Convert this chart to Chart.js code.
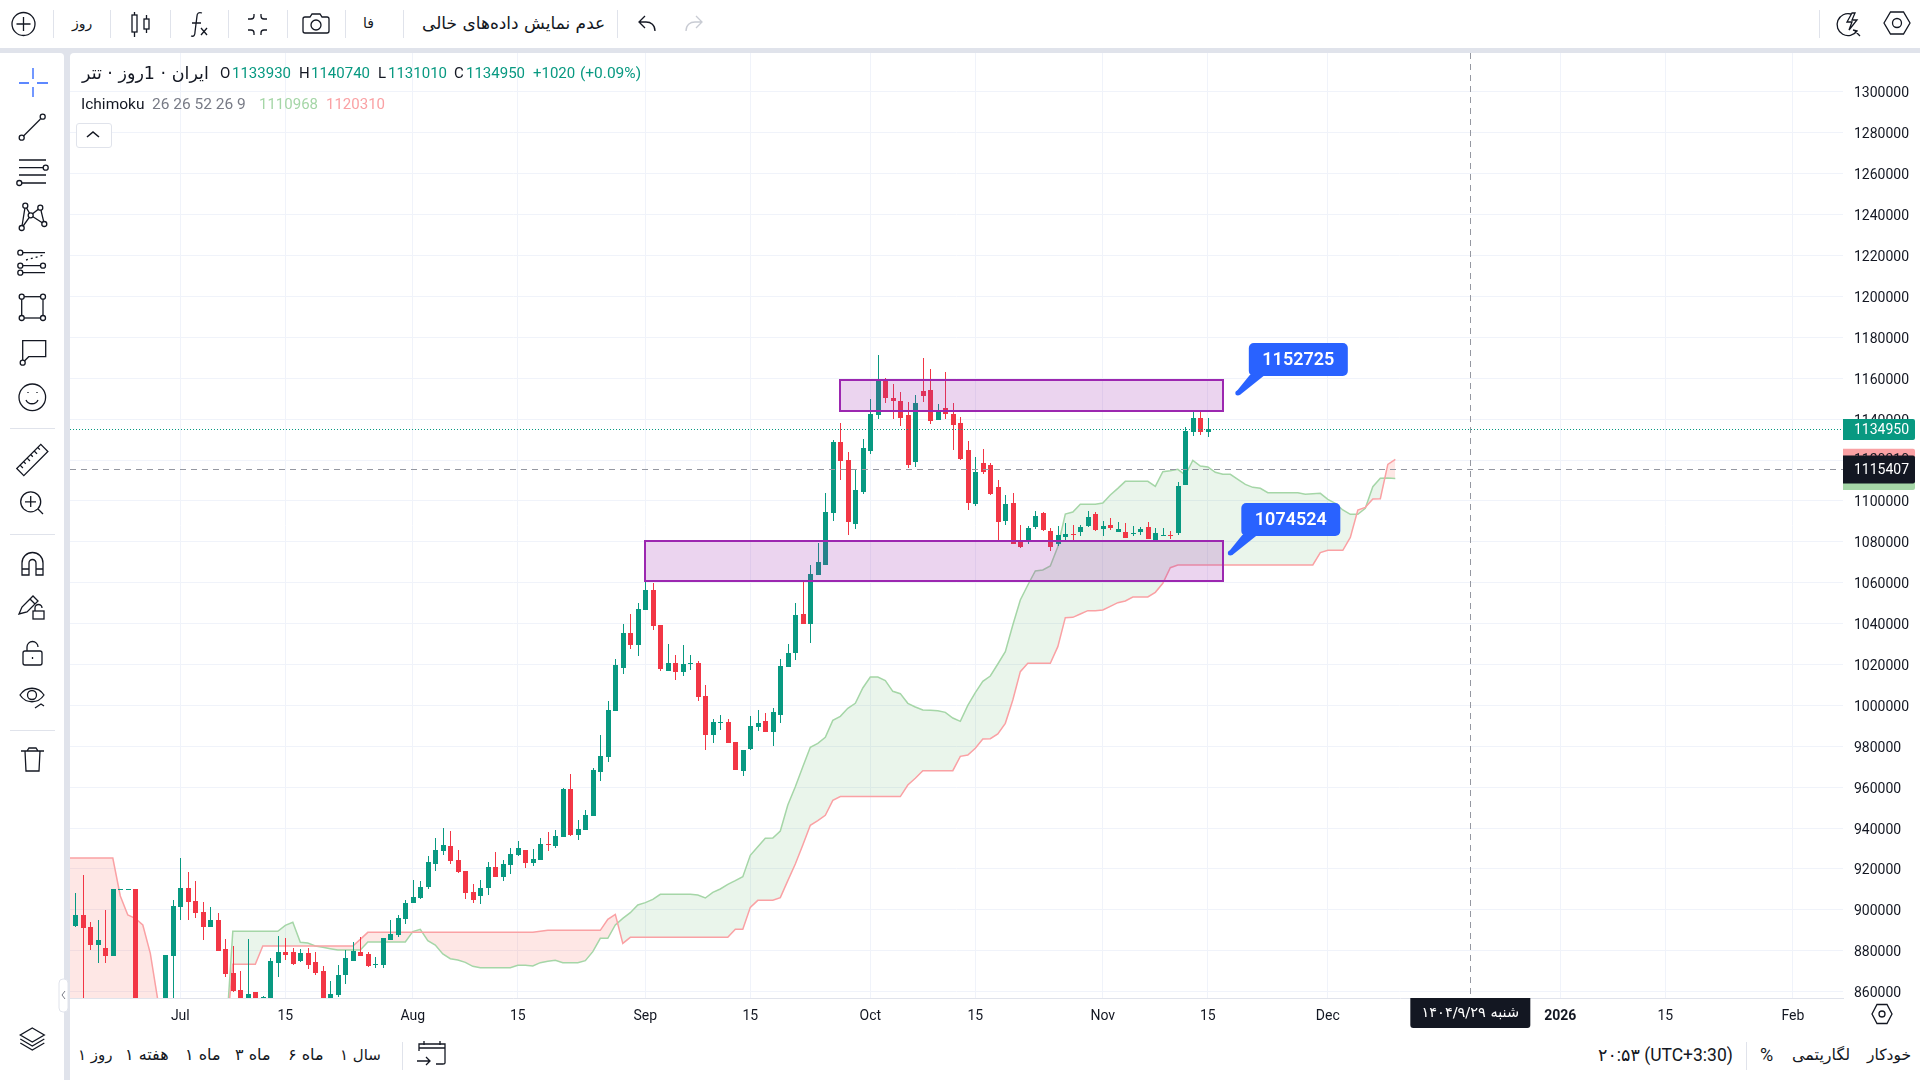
<!DOCTYPE html>
<html lang="fa">
<head>
<meta charset="utf-8">
<title>USDT IRT</title>
<script src="https://cdn.jsdelivr.net/npm/chart.js@4/dist/chart.umd.min.js"></script>
<style>
html, body { margin: 0; padding: 0; width: 1920px; height: 1080px; overflow: hidden; background: #e0e3eb; font-family: Roboto, "DejaVu Sans", sans-serif; color: #131722; }
.panel { position: absolute; background: #fff; }
.t { position: absolute; white-space: nowrap; line-height: 20px; }
.fa { font-family: "DejaVu Sans", sans-serif; }
.sep { position: absolute; background: #e0e3eb; }
svg { position: absolute; left: 0; top: 0; overflow: visible; }
svg .i { fill: none; stroke: #131722; stroke-width: 1.3; }
canvas { position: absolute; left: 70px; top: 53px; }
</style>
</head>
<body>
<div class="panel" style="left:0;top:0;width:1920px;height:48px"></div>
<div class="panel" style="left:0;top:53px;width:64px;height:1027px;border-radius:0 4px 0 0"></div>
<div class="panel" style="left:70px;top:53px;width:1850px;height:1027px;border-radius:4px 0 0 0"></div>
<canvas id="chart" width="1850" height="979"></canvas>

<!-- top bar -->
<div class="sep" style="left:53px;top:10px;width:1px;height:28px"></div>
<div class="sep" style="left:110px;top:10px;width:1px;height:28px"></div>
<div class="sep" style="left:170px;top:10px;width:1px;height:28px"></div>
<div class="sep" style="left:228px;top:10px;width:1px;height:28px"></div>
<div class="sep" style="left:287px;top:10px;width:1px;height:28px"></div>
<div class="sep" style="left:345px;top:10px;width:1px;height:28px"></div>
<div class="sep" style="left:403px;top:10px;width:1px;height:28px"></div>
<div class="sep" style="left:617px;top:10px;width:1px;height:28px"></div>
<div class="sep" style="left:1819px;top:10px;width:1px;height:28px"></div>
<div class="t fa" dir="rtl" style="left:72px;top:13px;font-size:14px">روز</div>
<div class="t fa" dir="rtl" style="left:363px;top:13px;font-size:14px">فا</div>
<div class="t fa" dir="rtl" style="left:422px;top:13px;font-size:17px">عدم نمایش داده‌های خالی</div>

<!-- chart legend -->
<div class="t fa" dir="rtl" style="left:82px;top:63px;font-size:17.5px">ایران · 1روز · تتر</div>
<div class="t" style="left:220px;top:63px;font-size:15px">O</div>
<div class="t" style="left:232px;top:63px;font-size:15px;color:#089981">1133930</div>
<div class="t" style="left:299px;top:63px;font-size:15px">H</div>
<div class="t" style="left:311px;top:63px;font-size:15px;color:#089981">1140740</div>
<div class="t" style="left:378px;top:63px;font-size:15px">L</div>
<div class="t" style="left:388px;top:63px;font-size:15px;color:#089981">1131010</div>
<div class="t" style="left:454px;top:63px;font-size:15px">C</div>
<div class="t" style="left:466px;top:63px;font-size:15px;color:#089981">1134950</div>
<div class="t" style="left:533px;top:63px;font-size:15px;color:#089981">+1020</div>
<div class="t" style="left:580px;top:63px;font-size:15.5px;color:#089981">(+0.09%)</div>
<div class="t" style="left:81px;top:94px;font-size:15.5px">Ichimoku</div>
<div class="t" style="left:152px;top:94px;font-size:15.500px;color:#787b86">26 26 52 26 9</div>
<div class="t" style="left:259px;top:94px;font-size:15px;color:#a5d6a7">1110968</div>
<div class="t" style="left:326px;top:94px;font-size:15px;color:#faa1a4">1120310</div>
<div style="position:absolute;left:76px;top:123px;width:34px;height:23px;border:1px solid #e0e3eb;border-radius:3px;background:#fff"></div>

<!-- bottom bar -->
<div class="t fa" dir="rtl" style="left:78px;top:1045px;font-size:15px">روز ۱</div>
<div class="t fa" dir="rtl" style="left:125px;top:1045px;font-size:16px">هفته ۱</div>
<div class="t fa" dir="rtl" style="left:185px;top:1045px;font-size:16px">ماه ۱</div>
<div class="t fa" dir="rtl" style="left:235px;top:1045px;font-size:16px">ماه ۳</div>
<div class="t fa" dir="rtl" style="left:288px;top:1045px;font-size:16px">ماه ۶</div>
<div class="t fa" dir="rtl" style="left:340px;top:1045px;font-size:15px">سال ۱</div>
<div class="sep" style="left:402px;top:1042px;width:1px;height:28px"></div>
<div class="t" dir="ltr" style="left:1598px;top:1045px;font-size:17.5px">۲۰:۵۳ (UTC+3:30)</div>
<div class="sep" style="left:1746px;top:1042px;width:1px;height:28px"></div>
<div class="t" style="left:1760px;top:1045px;font-size:18px">%</div>
<div class="t fa" dir="rtl" style="left:1792px;top:1045px;font-size:16px">لگاریتمی</div>
<div class="t fa" dir="rtl" style="left:1867px;top:1045px;font-size:15.500px">خودکار</div>

<!-- icons -->
<svg width="1920" height="1080">
  <g class="i">
    <circle cx="23.5" cy="24" r="11.5"/><path d="M23.5 17v14M16.5 24h14"/>
    <path d="M134.500 12v25M146.500 15v18"/><rect x="132" y="15" width="5" height="17" fill="#fff"/><rect x="144" y="19" width="5" height="10" fill="#fff"/>
    <path d="M191 36c3 1 4-1 4-4l2-16c0-3 2-4 5-3M192 23h9"/><path d="M201 28l6 7M207 28l-6 7"/>
    <path d="M254 14v2c0 2-1 3-3 3h-3M261 14v2c0 2 1 3 3 3h3M254 35v-2c0-2-1-3-3-3h-3M261 35v-2c0-2 1-3 3-3h3"/>
    <path d="M305 17h5l2-3h8l2 3h5c1 0 2 1 2 2v12c0 1-1 2-2 2h-22c-1 0-2-1-2-2v-12c0-1 1-2 2-2z"/><circle cx="316" cy="25" r="5"/>
    <path d="M655 31c0-6-4-9-9-9h-6M645 16l-6 6 6 6"/>
    <path d="M686 31c0-6 4-9 9-9h6M696 16l6 6-6 6" stroke="#c8cbd3"/>
    <path d="M1851 14a11 11 0 1 0 6 17l-4-1M1852 13l-5 9h5l-3 8 8-10h-5l3-7zM1855 31l5 5"/>
    <path d="M1884 23l6.500-11h13l6.500 11-6.500 11h-13z"/><circle cx="1897" cy="23" r="4.500"/>

    <g stroke="#2962ff">
      <path d="M19 83h10M37 83h11M33 68v11M33 87v10"/>
    </g>
    <path d="M23.500 136l17-17"/><circle cx="21.700" cy="137.700" r="2.500"/><circle cx="42.700" cy="116.700" r="2.500"/>
    <path d="M19 160h27M19 167.700h24M19 175h27M22 183h24"/><circle cx="45.700" cy="167.700" r="2.500"/><circle cx="19.300" cy="183" r="2.500"/>
    <path d="M21.700 228l3.600-22.300 5.400 9.600 9.600-7.600 4 16.300-13.600-8.700z"/>
    <circle cx="25.300" cy="205.700" r="2.500" fill="#fff"/><circle cx="40.300" cy="207.700" r="2.500" fill="#fff"/><circle cx="30.700" cy="215.300" r="2.500" fill="#fff"/><circle cx="21.700" cy="228" r="2.500" fill="#fff"/><circle cx="44.300" cy="224" r="2.500" fill="#fff"/>
    <path d="M23 252.700h22M23 265.700h17M23 272.700h22"/><path d="M26 260l18-5" stroke-dasharray="2 3"/>
    <circle cx="20.300" cy="252.700" r="2.500"/><circle cx="20.300" cy="265.700" r="2.500"/><circle cx="43" cy="265.700" r="2.500"/><circle cx="20.300" cy="272.700" r="2.500"/>
    <rect x="21.700" y="296.700" width="21.300" height="21.300"/>
    <circle cx="21.700" cy="296.700" r="2.500" fill="#fff"/><circle cx="43" cy="296.700" r="2.500" fill="#fff"/><circle cx="21.700" cy="318" r="2.500" fill="#fff"/><circle cx="43" cy="318" r="2.500" fill="#fff"/>
    <path d="M22.700 360v-19.300h23v16h-17l-4 4"/><circle cx="22.700" cy="362.700" r="2.500"/>
    <circle cx="32.300" cy="397.300" r="13.300"/><path d="M26 400c2 5 10 5 12 0M28 392v1M37 392v1"/>
    <g transform="rotate(-45 32.300 460)"><rect x="15.300" y="455" width="34" height="10"/><path d="M20 455v4M25 455v3M30 455v4M35 455v3M40 455v4M45 455v3"/></g>
    <circle cx="30.700" cy="501.800" r="10"/><path d="M25 501.800h11M30.700 496v11M38 509l5 5"/>
    <path d="M22 575v-12a10.500 10.500 0 0 1 21 0v12h-7v-12a3.500 3.500 0 0 0-7 0v12zM22 569h7M36 569h7"/>
    <path d="M19 614l3-7 11-11 5 5-11 11zM30 599l5 5"/><rect x="33" y="611" width="11" height="8"/><path d="M35 611v-3a3.500 3.500 0 0 1 7 0"/>
    <rect x="23" y="651" width="19" height="14" rx="2"/><path d="M27 651v-4a5.500 5.500 0 0 1 11 0"/><path d="M32.500 657v2"/>
    <path d="M20 695c6-9 18-9 24 0-6 9-18 9-24 0z"/><circle cx="32" cy="695" r="4.500"/><path d="M35 708l6-4 3 2"/>
    <path d="M21 751h23M27 751l2-3h7l2 3M25 751l1 20h13l1-20"/>
    <path d="M32.300 1028l12 7-12 7-12-7zM20.300 1039l12 7 12-7M20.300 1043l12 7 12-7"/>

    <path d="M1882 1004.500l10 0 5 9.500-5 9.500-10 0-5-9.500z" transform="translate(-5 0)"/><circle cx="1882" cy="1014" r="3"/>
    <path d="M87 137l6-5 6 5" stroke-width="1.600"/>
    <path d="M419 1051v-7h26v19c0 1-1 1-2 1h-7M419 1048h26M424 1041v4M440 1041v4M417 1061h13M426 1057l4 4-4 4"/>
  </g>
  <g fill="#e0e3eb">
    <rect x="10" y="428" width="45" height="1"/><rect x="10" y="534" width="45" height="1"/><rect x="10" y="730" width="45" height="1"/>
  </g>
  <rect x="59" y="979" width="9" height="33" rx="4" fill="#fff" stroke="#e0e3eb"/>
  <path d="M65 991l-3 4 3 4" fill="none" stroke="#787b86"/>
</svg>

<script>
// axis ticks
const xTickDays = [0, 14, 31, 45, 62, 76, 92, 106, 123, 137, 153, 184, 198, 215];
const xTickLabels = ["Jul", "15", "Aug", "15", "Sep", "15", "Oct", "15", "Nov", "15", "Dec", "2026", "15", "Feb"];
const yTicks = [860000, 880000, 900000, 920000, 940000, 960000, 980000, 1000000, 1020000, 1040000, 1060000, 1080000,
    1100000, 1120000, 1140000, 1160000, 1180000, 1200000, 1220000, 1240000, 1260000, 1280000, 1300000];

// daily candles, days counted from 1 Jul
const candleStartDay = -14;
const opens = [
    892130, 897510, 891470, 882840, 881370, 877620, 909800, 909800, 910220, 848000,
    838000, 832000, 836000, 877620, 901580, 910710, 904350, 898810, 891800, 895060,
    880880, 869140, 860830, 853000, 859850, 845000, 850000, 874030, 879410, 879410,
    875010, 878920, 874520, 870120, 852000, 858390, 868170, 875010, 879410, 878430,
    873000, 873060, 885280, 887730, 895550, 903370, 905820, 911200, 922440, 928800,
    931250, 924400, 919020, 908750, 906800, 910710, 920980, 916090, 921960, 926850,
    929290, 922930, 924400, 932300, 931250, 935650, 959120, 936630, 939070, 945920,
    967430, 974770, 997260, 1018290, 1035400, 1029540, 1046650, 1056430, 1039320, 1016820,
    1020730, 1016330, 1020000, 1020730, 1004600, 985530, 991500, 991880, 982100, 967920,
    978680, 989440, 992370, 986990, 995310, 1018780, 1025620, 1044690, 1039800, 1063770,
    1068660, 1094080, 1128800, 1120000, 1088700, 1104350, 1124400, 1141980, 1158630, 1150320,
    1148850, 1141980, 1119020, 1153740, 1154230, 1139560, 1145430, 1142490, 1138090, 1124890,
    1098480, 1118530, 1117560, 1106800, 1090170, 1098970, 1080390, 1079900, 1087240, 1094080,
    1085280, 1078920, 1082350, 1083800, 1084790, 1087730, 1093590, 1086260, 1088220, 1084790,
    1084790, 1083700, 1084790, 1087240, 1080880, 1082900, 1083500, 1084300, 1107780, 1133690,
    1140540, 1133930
];
const highs = [
    908100, 917070, 894080, 895060, 899950, 910220, 910300, 910300, 910220, 852000,
    845000, 842000, 877950, 904840, 925380, 918530, 914130, 904030, 901420, 898480,
    885770, 882350, 870120, 885770, 859850, 857800, 876320, 887240, 886260, 881370,
    880880, 881370, 879410, 872570, 865230, 873060, 880390, 884300, 886750, 879410,
    876970, 886260, 895060, 897510, 904840, 914620, 914130, 926360, 935160, 940050,
    938580, 929290, 919020, 912660, 914620, 923420, 928310, 924400, 930270, 933690,
    929290, 929780, 935160, 938090, 939070, 959610, 966450, 943960, 948850, 969390,
    985530, 1002150, 1022690, 1039800, 1044690, 1050070, 1064580, 1059850, 1039320, 1030020,
    1024650, 1029540, 1024650, 1021710, 1009980, 993350, 995310, 993350, 982100, 978190,
    994820, 997750, 996280, 998730, 1022690, 1030020, 1050070, 1061320, 1068660, 1079410,
    1103860, 1129780, 1138090, 1123910, 1115110, 1130270, 1149830, 1171350, 1160100, 1157160,
    1153250, 1148360, 1151790, 1169880, 1164500, 1147380, 1163030, 1147870, 1141030, 1129290,
    1121470, 1125380, 1118530, 1110220, 1102890, 1103860, 1088220, 1087730, 1095060, 1094570,
    1086750, 1087730, 1089190, 1088220, 1088220, 1095060, 1094570, 1090170, 1091640, 1089680,
    1089190, 1087730, 1087240, 1089680, 1086750, 1086750, 1085280, 1109240, 1136140, 1143960,
    1143960, 1140740
];
const lows = [
    891800, 850000, 880390, 874200, 874200, 877620, 909800, 909800, 846000, 835000,
    828000, 826000, 832000, 850000, 895060, 895060, 896040, 885280, 891800, 880060,
    867350, 859690, 850000, 850000, 848000, 842000, 848000, 867190, 875500, 873060,
    874520, 871100, 868170, 850000, 848000, 857570, 863760, 875010, 877460, 872080,
    871590, 871590, 885280, 886750, 893100, 903370, 905500, 910220, 919020, 926850,
    922440, 918040, 905330, 903370, 902880, 907290, 916090, 914130, 917550, 926360,
    920490, 921470, 924400, 928800, 930270, 935650, 936140, 934180, 939070, 945920,
    963030, 972320, 997260, 1015350, 1027580, 1024160, 1046650, 1036870, 1016820, 1016820,
    1012420, 1014380, 1017310, 1002150, 978190, 981610, 987970, 981610, 968410, 965480,
    978190, 987480, 986990, 980150, 991390, 1018780, 1022200, 1039800, 1030510, 1063770,
    1068660, 1090170, 1110220, 1083330, 1086260, 1103370, 1122930, 1140050, 1147870, 1140050,
    1136630, 1116090, 1116580, 1148360, 1137600, 1139560, 1140050, 1124890, 1120000, 1095550,
    1097510, 1113150, 1102890, 1079900, 1088220, 1078920, 1076970, 1078920, 1086260, 1085280,
    1075500, 1077950, 1080880, 1080880, 1082840, 1087240, 1085280, 1082840, 1085770, 1084790,
    1081860, 1082840, 1083330, 1081370, 1080880, 1082840, 1081370, 1083330, 1107780, 1131740,
    1132230, 1131010
];
const closes = [
    897510, 891310, 883000, 885280, 877620, 910220, 910300, 910300, 848000, 838000,
    832000, 836000, 877950, 901910, 910710, 904030, 898480, 891800, 895060, 880060,
    868820, 860340, 852000, 858870, 850000, 857570, 875010, 879410, 878110, 873540,
    878920, 873060, 869140, 852000, 858870, 868170, 876480, 879900, 877460, 872570,
    873500, 886260, 888210, 896040, 903370, 906310, 911200, 923420, 929290, 931740,
    923910, 918530, 908260, 904840, 910710, 920980, 916090, 922440, 927330, 930270,
    922930, 924890, 932220, 931800, 936140, 959120, 936630, 939560, 946410, 968410,
    975260, 997750, 1019760, 1035400, 1029540, 1047140, 1056430, 1038830, 1017800, 1020730,
    1016330, 1020240, 1020500, 1004110, 985530, 991880, 992000, 981610, 968410, 978190,
    989930, 991390, 986990, 996770, 1019270, 1025620, 1044210, 1039800, 1064250, 1070120,
    1094570, 1128800, 1119510, 1089680, 1105330, 1125870, 1142490, 1159120, 1150320, 1148850,
    1140540, 1117560, 1147870, 1151300, 1139070, 1143960, 1142490, 1137120, 1120490, 1098970,
    1114130, 1114130, 1103370, 1089680, 1098480, 1078920, 1077460, 1086750, 1092620, 1085770,
    1077460, 1083330, 1083810, 1083300, 1087240, 1092130, 1085770, 1087730, 1086750, 1086260,
    1081860, 1084200, 1086260, 1081370, 1084300, 1083400, 1083000, 1107290, 1134180, 1140540,
    1133930, 1134950
];

// ichimoku cloud edges
const cloudStartDay = -16;
const senkouA = [
    830000, 830000, 830000, 830000, 830000, 830000, 830000, 830000, 830000, 830000,
    830000, 830000, 830000, 830000, 830000, 830000, 830000, 830000, 830000, 830000,
    830000, 830000, 833120, 889520, 889520, 889520, 889520, 889520, 889520, 889520,
    892450, 893920, 884140, 883810, 882350, 881690, 881040, 880390, 880390, 880390,
    880390, 884300, 884300, 884300, 884300, 884300, 884300, 889360, 890500, 884950,
    882840, 878430, 876150, 875500, 874360, 872400, 871750, 871750, 871750, 871750,
    871750, 872890, 872890, 872570, 874200, 874850, 875340, 874200, 874200, 874200,
    875170, 879580, 886100, 886100, 892620, 895880, 898650, 902400, 903540, 905170,
    907610, 907610, 907610, 907610, 907610, 907290, 905820, 908590, 910220, 912500,
    914290, 916250, 926680, 930920, 935000, 935160, 938580, 951300, 960260, 970040,
    979490, 981450, 984380, 992700, 994650, 998570, 1001010, 1008510, 1013890, 1013890,
    1012090, 1006880, 1005740, 1001010, 999220, 997750, 997590, 997420, 996610, 993840,
    992210, 1000030, 1006230, 1011770, 1014380, 1020240, 1026280, 1039320, 1051540, 1058880,
    1065720, 1066210, 1068170, 1077620, 1093590, 1094570, 1098320, 1098320, 1098320, 1098970,
    1102890, 1106150, 1109570, 1109570, 1109570, 1109570, 1107120, 1114300, 1114780, 1115440,
    1112670, 1119840, 1117070, 1116580, 1113970, 1112990, 1112990, 1110550, 1108100, 1106630,
    1106150, 1104030, 1104030, 1104030, 1104030, 1104030, 1103210, 1103540, 1103700, 1100770,
    1098810, 1095550, 1093430, 1093430, 1096370, 1106960, 1111040, 1111200, 1110968
];
const senkouB = [
    925380, 925380, 925380, 925380, 925380, 925380, 925380, 925380, 906800, 897510,
    895880, 892620, 878760, 855940, 839640, 835000, 835000, 835000, 835000, 835000,
    835000, 835000, 833120, 873380, 873380, 873380, 873380, 882350, 882350, 882350,
    882350, 882350, 882350, 882350, 882350, 882350, 882350, 882350, 882350, 882350,
    885600, 889030, 889030, 889030, 889030, 889030, 889030, 889030, 889030, 889030,
    889030, 889030, 889030, 889030, 889030, 889030, 889030, 889030, 889030, 889030,
    889030, 889030, 889030, 889030, 889520, 890010, 890010, 890010, 890010, 890010,
    890010, 890010, 890010, 895390, 897830, 883650, 886580, 886580, 886580, 886580,
    886580, 886580, 886580, 886580, 886580, 886580, 886580, 886580, 886580, 886580,
    890500, 890500, 901250, 904680, 904680, 904680, 905980, 914290, 922440, 931740,
    941350, 943630, 946240, 953580, 955400, 955400, 955400, 955400, 955400, 955400,
    955400, 955400, 955400, 961080, 964340, 968080, 968080, 968080, 968080, 968080,
    975090, 975750, 979010, 983570, 983730, 986010, 991230, 1002640, 1016500, 1020570,
    1020570, 1020570, 1020570, 1028720, 1042900, 1043060, 1044690, 1046320, 1046320, 1046650,
    1048440, 1050240, 1051050, 1053010, 1053010, 1053010, 1055290, 1059690, 1067350, 1068660,
    1068660, 1068660, 1068660, 1068660, 1068660, 1068660, 1068660, 1068660, 1068660, 1068660,
    1068660, 1068660, 1068660, 1068660, 1068660, 1068660, 1068660, 1068660, 1074690, 1075830,
    1075830, 1075830, 1082180, 1095550, 1096850, 1100930, 1101090, 1117880, 1120310
];

// drawings on the chart
const zoneStartDays = [88, 62];
const zoneEndDays = [139, 139];
const zoneTops = [1159120, 1080390];
const zoneBottoms = [1143960, 1060830];
const calloutDays = [141, 140];
const calloutPrices = [1152725, 1074524];

const lastPrice = 1134950;
const cloudAPrice = 1110968;
const cloudBPrice = 1120310;
const crossDay = 172;
const crossPrice = 1115407;
const crossDateLabel = "شنبه ۱۴۰۴/۹/۲۹";

const upColor = "#089981";
const downColor = "#f23645";

const wickData = [], bodyData = [], candleColors = [];
for (let i = 0; i < opens.length; i++) {
    const day = candleStartDay + i;
    wickData.push({ x: day, y: [lows[i], highs[i]] });
    bodyData.push({ x: day, y: [opens[i], closes[i]] });
    candleColors.push(closes[i] >= opens[i] ? upColor : downColor);
}

function priceTag(ctx, area, y, h, text, bg, fg) {
    ctx.fillStyle = bg;
    ctx.beginPath();
    ctx.roundRect(area.right, y - h / 2, 72, h, [0, 2, 2, 0]);
    ctx.fill();
    ctx.fillStyle = fg;
    ctx.font = "14px Roboto";
    ctx.textAlign = "left";
    ctx.textBaseline = "middle";
    ctx.fillText(text, area.right + 11, y + 1);
}

// keeps wicks and bodies on whole pixels, the way the original candles look
const crispBarsPlugin = {
    id: "crispBars",
    beforeDatasetsDraw(chart) {
        for (const index of [2, 3]) {
            for (const el of chart.getDatasetMeta(index).data) {
                el.x = Math.floor(el.x + 0.4) + 0.5;
                el.y = Math.round(el.y);
                el.base = Math.round(el.base);
                if (el.base === el.y) el.base = el.y + 1;
            }
        }
    }
};

// boxes, callouts, crosshair and price tags, placed through the scales
const drawingsPlugin = {
    id: "drawings",
    afterDatasetsDraw(chart) {
        const ctx = chart.ctx, area = chart.chartArea;
        const xs = chart.scales.x, ys = chart.scales.y;

        ctx.save();
        ctx.beginPath();
        ctx.rect(area.left, area.top, area.right - area.left, area.bottom - area.top);
        ctx.clip();
        for (let i = 0; i < zoneTops.length; i++) {
            const x1 = Math.round(xs.getPixelForValue(zoneStartDays[i])), x2 = Math.round(xs.getPixelForValue(zoneEndDays[i]));
            const y1 = Math.round(ys.getPixelForValue(zoneTops[i])), y2 = Math.round(ys.getPixelForValue(zoneBottoms[i]));
            ctx.fillStyle = "rgba(156,39,176,0.2)";
            ctx.strokeStyle = "#9c27b0";
            ctx.lineWidth = 2;
            ctx.fillRect(x1, y1, x2 - x1, y2 - y1);
            ctx.strokeRect(x1, y1, x2 - x1, y2 - y1);
        }

        ctx.lineWidth = 1;
        ctx.strokeStyle = upColor;
        ctx.setLineDash([1, 2]);
        const lastY = Math.round(ys.getPixelForValue(lastPrice)) + 0.5;
        ctx.beginPath();
        ctx.moveTo(area.left, lastY);
        ctx.lineTo(area.right, lastY);
        ctx.stroke();

        ctx.strokeStyle = "#9598a1";
        ctx.setLineDash([6, 5]);
        const crossY = Math.round(ys.getPixelForValue(crossPrice)) + 0.5;
        const crossX = Math.round(xs.getPixelForValue(crossDay)) + 0.5;
        ctx.beginPath();
        ctx.moveTo(area.left, crossY);
        ctx.lineTo(area.right, crossY);
        ctx.moveTo(crossX, area.top);
        ctx.lineTo(crossX, area.bottom);
        ctx.stroke();
        ctx.setLineDash([]);

        for (let i = 0; i < calloutPrices.length; i++) {
            const px = xs.getPixelForValue(calloutDays[i]), py = ys.getPixelForValue(calloutPrices[i]);
            ctx.fillStyle = "#2962ff";
            ctx.beginPath();
            ctx.moveTo(px - 1, py - 2);
            ctx.lineTo(px + 12, py - 18);
            ctx.lineTo(px + 27, py - 18);
            ctx.lineTo(px + 2, py + 2);
            ctx.fill();
            ctx.beginPath();
            ctx.arc(px, py, 2.5, 0, Math.PI * 2);
            ctx.fill();
            ctx.beginPath();
            ctx.roundRect(px + 11, py - 50, 99, 33, 5);
            ctx.fill();
            ctx.fillStyle = "#fff";
            ctx.font = "600 18px Roboto";
            ctx.textAlign = "center";
            ctx.textBaseline = "middle";
            ctx.fillText(String(calloutPrices[i]), px + 60.5, py - 32.5);
        }
        ctx.restore();

        priceTag(ctx, area, ys.getPixelForValue(cloudBPrice), 21, String(cloudBPrice), "#faa1a4", "#131722");
        priceTag(ctx, area, ys.getPixelForValue(cloudAPrice), 23, String(cloudAPrice), "#a5d6a7", "#131722");
        priceTag(ctx, area, ys.getPixelForValue(lastPrice), 21, String(lastPrice), upColor, "#fff");
        priceTag(ctx, area, ys.getPixelForValue(crossPrice), 28, String(crossPrice), "#131722", "#fff");

        const labelX = xs.getPixelForValue(crossDay);
        ctx.save();
        ctx.fillStyle = "#131722";
        ctx.beginPath();
        ctx.roundRect(labelX - 60, area.bottom, 120, 30, [0, 0, 3, 3]);
        ctx.fill();
        ctx.fillStyle = "#fff";
        ctx.font = "14.5px 'DejaVu Sans'";
        ctx.direction = "rtl";
        ctx.textAlign = "center";
        ctx.textBaseline = "middle";
        ctx.fillText(crossDateLabel, labelX, area.bottom + 15);
        ctx.restore();
    }
};

new Chart(document.getElementById("chart"), {
    data: {
        datasets: [
            {
                type: "line",
                data: senkouA.map((v, i) => ({ x: cloudStartDay + i, y: v })),
                borderColor: "#a5d6a7",
                borderWidth: 1.5,
                pointRadius: 0,
                tension: 0,
                order: 4,
                fill: { target: 1, above: "rgba(67,160,71,0.11)", below: "rgba(244,67,54,0.13)" }
            },
            {
                type: "line",
                data: senkouB.map((v, i) => ({ x: cloudStartDay + i, y: v })),
                borderColor: "#faa1a4",
                borderWidth: 1.5,
                pointRadius: 0,
                tension: 0,
                order: 3,
                fill: false
            },
            {
                type: "bar",
                data: wickData,
                backgroundColor: candleColors,
                barThickness: 1,
                inflateAmount: 0,
                grouped: false,
                order: 2
            },
            {
                type: "bar",
                data: bodyData,
                backgroundColor: candleColors,
                barThickness: 5,
                inflateAmount: 0,
                grouped: false,
                order: 1
            }
        ]
    },
    options: {
        responsive: false,
        animation: false,
        devicePixelRatio: 1,
        layout: { padding: 0 },
        plugins: { legend: { display: false }, tooltip: { enabled: false } },
        scales: {
            x: {
                type: "linear",
                offset: false,
                min: -14.707,
                max: 221.69,
                afterFit: function (scale) {
                    scale.height = 34;
                    scale.paddingLeft = 0;
                    scale.paddingRight = 0;
                },
                afterBuildTicks: function (scale) { scale.ticks = xTickDays.map(v => ({ value: v })); },
                grid: { color: "#f0f3fa", drawTicks: false, offset: false },
                border: { color: "#e0e3eb" },
                ticks: {
                    autoSkip: false,
                    maxRotation: 0,
                    padding: 10,
                    color: "#131722",
                    font: function (c) {
                        return { family: "Roboto", size: 14, weight: xTickLabels[c.index] === "2026" ? "bold" : "normal" };
                    },
                    callback: function (v) { return xTickLabels[xTickDays.indexOf(v)]; }
                }
            },
            y: {
                type: "linear",
                position: "right",
                min: 856918,
                max: 1319023,
                afterFit: function (scale) {
                    scale.width = 77;
                    scale.paddingTop = 0;
                    scale.paddingBottom = 0;
                },
                afterBuildTicks: function (scale) { scale.ticks = yTicks.map(v => ({ value: v })); },
                grid: { color: "#f0f3fa", drawTicks: false },
                border: { display: false },
                ticks: {
                    autoSkip: false,
                    padding: 11,
                    labelOffset: 2,
                    color: "#131722",
                    font: { family: "Roboto", size: 14 },
                    callback: function (v) { return String(v); }
                }
            }
        }
    },
    plugins: [crispBarsPlugin, drawingsPlugin]
});
</script>
</body>
</html>
